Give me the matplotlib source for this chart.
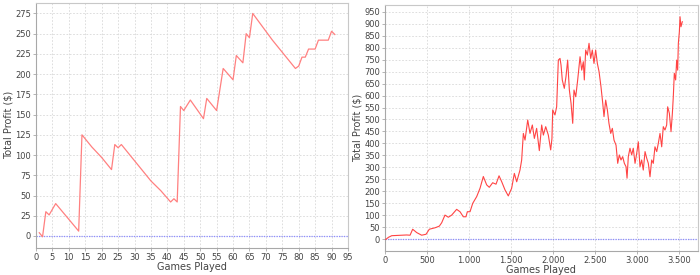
import matplotlib
matplotlib.use("Agg")
import matplotlib.pyplot as plt
from matplotlib.ticker import FuncFormatter

# ---- Left chart data (game number, cumulative profit) ----
left_games = [1, 2, 3, 4, 5, 6, 13, 14, 17, 20, 23, 24, 25, 26, 30, 35, 38, 41, 42, 43,
              44, 45, 47, 51, 52, 55, 57, 60, 61, 63, 64, 65, 66, 72, 79, 80, 81, 82,
              83, 85, 86, 89, 90, 91]
left_profit = [4, -1, 30, 26, 33, 40, 6, 125, 110, 97, 82, 113, 109, 113, 93, 68, 56, 42, 46, 42,
               160, 155, 168, 145, 170, 155, 207, 193, 223, 214, 250, 245, 275, 242, 207, 210, 221, 221,
               231, 231, 242, 242, 253, 249]

# ---- Right chart data (game number, cumulative profit) ----
right_games = [0, 12, 40, 80, 150, 258, 298, 329, 377, 436, 488, 527, 595, 646, 674, 713, 753,
               793, 852, 892, 931, 963, 979, 1011, 1043, 1090, 1130, 1169, 1209, 1240, 1280,
               1320, 1356, 1388, 1427, 1466, 1506, 1538, 1566, 1605, 1625, 1645, 1665, 1697,
               1724, 1752, 1776, 1803, 1835, 1863, 1883, 1911, 1942, 1970, 1985, 1994, 2021,
               2041, 2061, 2081, 2093, 2108, 2132, 2152, 2172, 2192, 2212, 2232, 2247, 2268,
               2291, 2319, 2339, 2358, 2370, 2386, 2406, 2426, 2446, 2465, 2485, 2505, 2525,
               2545, 2568, 2589, 2604, 2624, 2644, 2663, 2684, 2703, 2723, 2747, 2767, 2786,
               2806, 2826, 2846, 2866, 2878, 2893, 2913, 2933, 2952, 2973, 2993, 3012, 3032,
               3052, 3071, 3092, 3112, 3131, 3151, 3171, 3190, 3210, 3231, 3250, 3270, 3290,
               3309, 3329, 3349, 3361, 3381, 3401, 3417, 3428, 3440, 3456, 3468, 3480, 3488,
               3500, 3508, 3519, 3535]
right_profit = [0, 0, 8, 15, 16, 18, 17, 42, 28, 17, 21, 42, 48, 55, 69, 101, 92,
                101, 125, 115, 94, 94, 115, 115, 150, 178, 213, 262, 227, 217, 236,
                230, 265, 240, 206, 181, 213, 275, 240, 289, 331, 442, 414, 498,
                442, 477, 421, 463, 370, 477, 435, 470, 435, 373, 420, 540, 519,
                553, 748, 755, 727, 665, 630, 679, 748, 623, 568, 484, 623, 595,
                665, 762, 706, 741, 665, 790, 769, 818, 755, 790, 734, 790, 734,
                700, 637, 568, 512, 581, 540, 484, 442, 463, 414, 393, 317, 352,
                331, 345, 317, 303, 255, 345, 380, 352, 380, 317, 359, 407, 303,
                331, 289, 366, 338, 317, 261, 331, 317, 386, 366, 401, 442, 386,
                470, 456, 477, 553, 526, 449, 526, 595, 693, 665, 748, 706, 818,
                866, 929, 887, 908]

left_yticks = list(range(0, 276, 25))
left_xticks = list(range(0, 96, 5))
right_yticks = list(range(0, 951, 50))
right_xticks = list(range(0, 3501, 500))

GRID = "#d8d8d8"
SPINE = "#a8a8a8"
TXT = "#444444"

fig = plt.figure(figsize=(7.0, 2.75), dpi=100)
axL = fig.add_axes([0.0514, 0.0993, 0.4457, 0.890])
axR = fig.add_axes([0.550, 0.0884, 0.4467, 0.8935])


def thousands(v, pos):
    return f"{int(round(v)):,}".replace(",", ".")


def style(ax):
    ax.set_facecolor("white")
    ax.grid(True, color=GRID, linestyle=(0, (2, 2)), linewidth=0.6)
    ax.set_axisbelow(True)
    for s in ax.spines.values():
        s.set_color("#c8c8c8")
        s.set_linewidth(0.8)
    ax.spines["left"].set_color(SPINE)
    ax.spines["bottom"].set_color(SPINE)
    ax.tick_params(axis="both", labelsize=6.0, colors=TXT, length=2, width=0.6,
                   pad=1.5, color=SPINE)
    ax.set_xlabel("Games Played", fontsize=7.0, color=TXT, labelpad=0)
    ax.set_ylabel("Total Profit ($)", fontsize=7.0, color=TXT, labelpad=1)


style(axL)
axL.axhline(0, color="#8c8cff", linestyle=(0, (1, 1)), linewidth=0.9, zorder=1)
axL.plot(left_games, left_profit, color="#ff8080", linewidth=0.9, zorder=3)
axL.set_xlim(0, 95)
axL.set_ylim(-14.5, 288)
axL.set_xticks(left_xticks)
axL.set_yticks(left_yticks)

style(axR)
axR.axhline(0, color="#8c8cff", linestyle=(0, (1, 1)), linewidth=0.9, zorder=1)
axR.plot(right_games, right_profit, color="#ff4444", linewidth=0.8, zorder=3)
axR.set_xlim(0, 3718)
axR.set_ylim(-47.6, 978)
axR.set_xticks(right_xticks)
axR.set_yticks(right_yticks)
axR.xaxis.set_major_formatter(FuncFormatter(thousands))

fig.savefig("out.png", dpi=100)
